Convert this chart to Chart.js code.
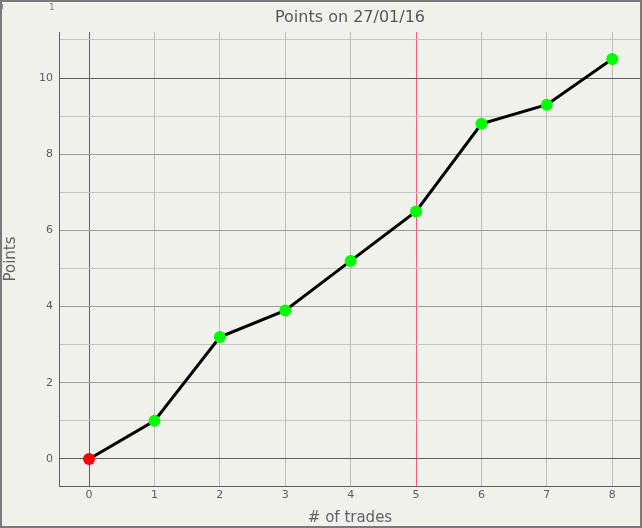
<!DOCTYPE html>
<html>
<head>
<meta charset="utf-8">
<script src="https://cdn.jsdelivr.net/npm/chart.js@4/dist/chart.umd.min.js"></script>
<style>
    html, body { margin: 0; padding: 0; background: #f1f1ec; }
    #wrap { position: relative; width: 642px; height: 528px; }
    .corner { position: absolute; top: 2px; font: 9px "DejaVu Sans", sans-serif; color: #7c7c90; }
</style>
</head>
<body>
<div id="wrap">
    <canvas id="chart" width="642" height="528"></canvas>
    <span class="corner" style="left:-2px">0</span>
    <span class="corner" style="left:49px">1</span>
</div>
<script>
const trades = [0, 1, 2, 3, 4, 5, 6, 7, 8];
const points = [0, 1, 3.2, 3.9, 5.2, 6.5, 8.8, 9.3, 10.5];
const xTicks = [0, 1, 2, 3, 4, 5, 6, 7, 8];
const yTicks = [0, 1, 2, 3, 4, 5, 6, 7, 8, 9, 10, 11];
const markerLine = 5;

const fontFamily = '"DejaVu Sans", sans-serif';
const textColor = '#5a5a6a';

const frame = {
    id: 'frame',
    beforeDraw(c) {
        const ctx = c.ctx;
        ctx.save();
        ctx.fillStyle = '#f1f1ec';
        ctx.fillRect(0, 0, c.width, c.height);
        ctx.restore();
    },
    afterDraw(c) {
        const ctx = c.ctx;
        ctx.save();
        ctx.strokeStyle = '#7a7a7a';
        ctx.lineWidth = 2;
        ctx.strokeRect(1, 1, c.width - 2, c.height - 2);
        ctx.restore();
    },
};

const yGridColor = (v) => {
    if (v === 0 || v === 10) return '#5e5e5e';
    if (v % 2 === 0) return '#9c9c9c';
    return '#c4c4c0';
};

const xGridColor = (v) => {
    if (v === 0) return '#5e5e5e';
    if (v === markerLine) return '#ff5a6e';
    return '#bdbdba';
};

new Chart(document.getElementById('chart'), {
    type: 'line',
    data: {
        datasets: [{
            data: trades.map((t, i) => ({x: t, y: points[i]})),
            borderColor: '#000000',
            borderWidth: 3,
            tension: 0,
            pointRadius: 6,
            pointBorderWidth: 0,
            pointBackgroundColor: trades.map((t, i) => i === 0 ? '#ff0000' : '#00ff00'),
        }],
    },
    options: {
        responsive: false,
        animation: false,
        layout: {
            autoPadding: false,
            padding: {left: 0, right: 1, top: 0, bottom: 0},
        },
        scales: {
            x: {
                type: 'linear',
                min: -0.46,
                max: 8.44,
                afterBuildTicks: (s) => { s.ticks = xTicks.map(v => ({value: v})); },
                afterFit: (s) => { s.height = 42; },
                border: {display: true, color: '#5e5e5e', width: 1},
                grid: {
                    drawTicks: false,
                    color: (ctx) => xGridColor(ctx.tick ? ctx.tick.value : null),
                },
                ticks: {
                    padding: 3,
                    font: {family: fontFamily, size: 11},
                    color: textColor,
                    maxRotation: 0,
                },
                title: {
                    display: true,
                    text: '# of trades',
                    font: {family: fontFamily, size: 15},
                    color: '#606068',
                    padding: {top: 0, bottom: 1},
                },
            },
            y: {
                min: -0.71,
                max: 11.21,
                afterBuildTicks: (s) => { s.ticks = yTicks.map(v => ({value: v})); },
                afterFit: (s) => { s.width = 59; },
                border: {display: true, color: '#5e5e5e', width: 1},
                grid: {
                    drawTicks: false,
                    color: (ctx) => yGridColor(ctx.tick ? ctx.tick.value : null),
                },
                ticks: {
                    padding: 6,
                    font: {family: fontFamily, size: 11},
                    color: textColor,
                    callback: (v) => v % 2 === 0 ? v : '',
                },
                title: {
                    display: true,
                    text: 'Points',
                    font: {family: fontFamily, size: 15},
                    color: '#606068',
                    padding: {top: 2, bottom: 0},
                },
            },
        },
        plugins: {
            legend: {display: false},
            tooltip: {enabled: false},
            title: {
                display: true,
                text: 'Points on 27/01/16',
                fullSize: false,
                font: {family: fontFamily, size: 16, weight: 'normal'},
                color: '#55555e',
                padding: {top: 8, bottom: 4.8},
            },
        },
    },
    plugins: [frame],
});
</script>
</body>
</html>
